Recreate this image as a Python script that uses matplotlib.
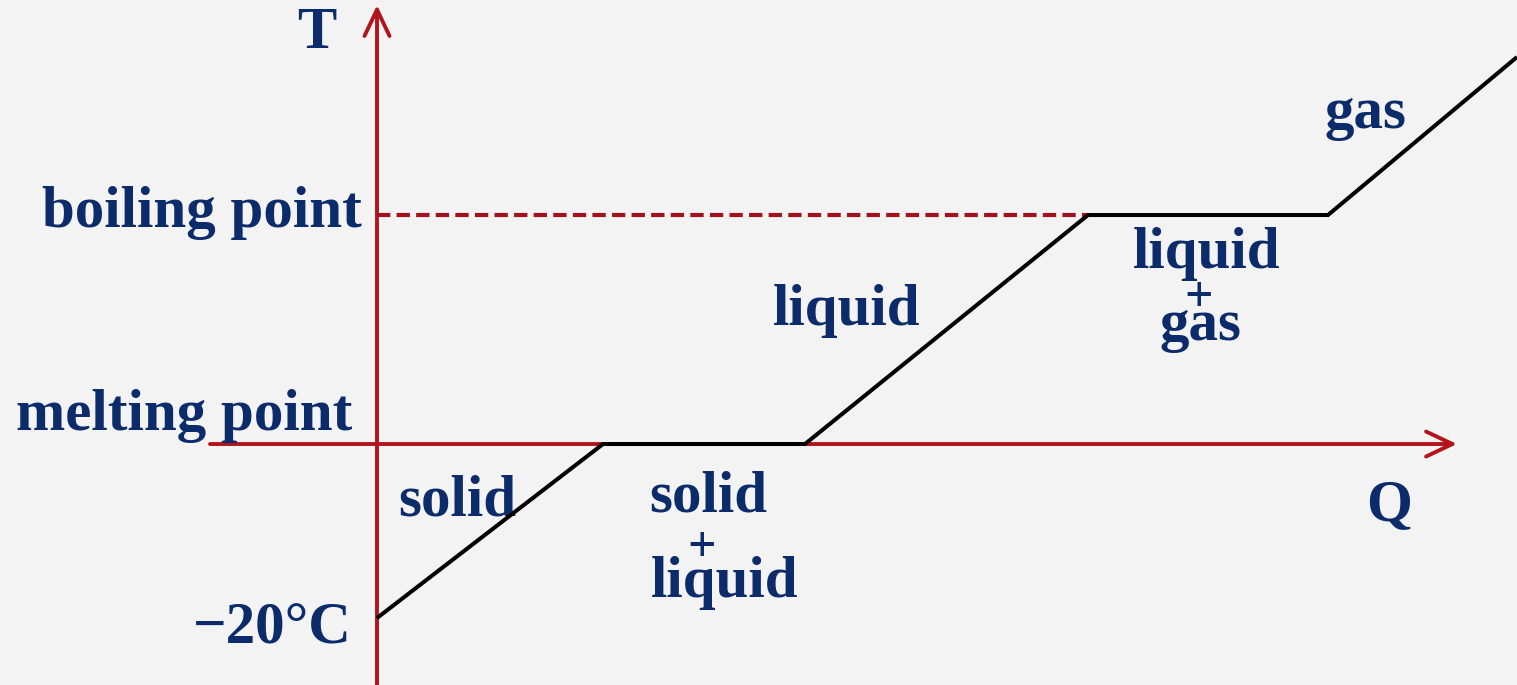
import numpy as np
import matplotlib
matplotlib.use("Agg")
import matplotlib.pyplot as plt

# Heating curve: heat supplied (arbitrary units) vs temperature (°C)
heat_q = [0.0, 22.6, 42.8, 71.1, 95.1, 114.0]
temp_c = [-20.0, 0.0, 0.0, 100.0, 100.0, 169.0]

melting_c = 0.0
boiling_c = 100.0
start_c = -20.0

phase_labels = ["solid", "solid", "+", "liquid", "liquid", "liquid", "+", "gas", "gas"]

AXIS_RED = "#B3141C"
DASH_RED = "#A3121A"
NAVY = "#0B2B6B"
BG = "#F3F3F4"

# Schematic (non-uniform) temperature scale: the sub-zero range is stretched
def fwd(t):
    t = np.asarray(t, dtype=float)
    return np.where(t < 0, t * 8.7, t * 2.29)

def inv(y):
    y = np.asarray(y, dtype=float)
    return np.where(y < 0, y / 8.7, y / 2.29)

fig = plt.figure(figsize=(15.17, 6.85), dpi=100, facecolor=BG)
ax = fig.add_axes([0, 0, 1, 1])
ax.set_facecolor(BG)
ax.set_yscale("function", functions=(fwd, inv))
ax.set_xlim(-37.7, 114.0)
ax.set_ylim(-27.7, 193.9)
ax.axis("off")

# Axes with open arrowheads
arrow_kw = dict(arrowstyle="->,head_length=0.95,head_width=0.45",
                color=AXIS_RED, lw=2.8, shrinkA=0, shrinkB=0, mutation_scale=20)
ax.annotate("", xy=(0, 191.7), xytext=(0, -27.7), arrowprops=arrow_kw, zorder=2)
ax.annotate("", xy=(108.0, melting_c), xytext=(-16.7, melting_c),
            arrowprops=arrow_kw, zorder=2)

# Boiling point guide
ax.plot([0, heat_q[3]], [boiling_c, boiling_c], color=DASH_RED, lw=3.0,
        ls=(0, (3.2, 1.5)), zorder=3)

# Heating curve
ax.plot(heat_q, temp_c, color="black", lw=2.9, solid_joinstyle="miter",
        solid_capstyle="butt", zorder=4)

txt = dict(color=NAVY, fontweight="bold", family="Liberation Serif")

ax.text(-6.0, 172.9, "T", ha="center", va="baseline", fontsize=42.5, **txt)
ax.text(101.2, -8.7, "Q", ha="center", va="baseline", fontsize=42.5, **txt)

ax.text(-1.5, 94.8, "boiling point", ha="right", va="baseline", fontsize=42.5, **txt)
ax.text(-2.5, 6.1, "melting point", ha="right", va="baseline", fontsize=42.5, **txt)
ax.text(-2.5, -22.9, "\u221220\u00b0C", ha="right", va="baseline", fontsize=42.5, **txt)

label_pos = [
    (2.1, -8.16, "left"),
    (33.1, -7.8, "center"),
    (32.5, -13.5, "center"),
    (34.8, -17.6, "center"),
    (47.0, 52.0, "center"),
    (83.0, 76.9, "center"),
    (82.2, 58.3, "center"),
    (82.3, 45.4, "center"),
    (98.8, 138.0, "center"),
]
for (x, y, ha), s in zip(label_pos, phase_labels):
    size = 36 if s == "+" else 42.5
    ax.text(x, y, s, ha=ha, va="baseline", fontsize=size, **txt)

fig.savefig("out.png", dpi=100, facecolor=BG)
